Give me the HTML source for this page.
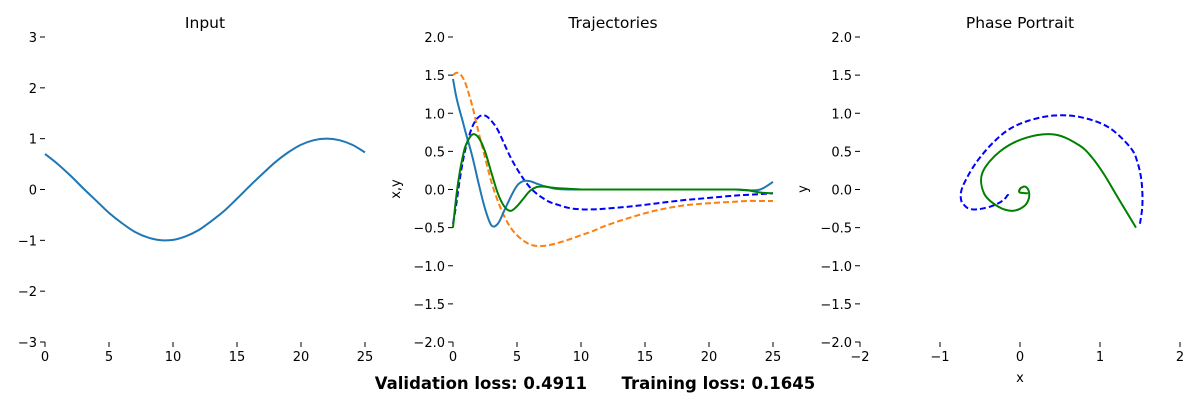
<!DOCTYPE html>
<html><head><meta charset="utf-8"><style>
body{margin:0;background:#fff;}
svg{display:block;font-family:"DejaVu Sans","Liberation Sans",sans-serif;}
</style></head><body>
<svg id="fig" width="1200" height="400" viewBox="0 0 1200 400">
<text x="595" y="389" text-anchor="middle" font-size="16.5" font-weight="bold">Validation loss: 0.4911&#160;&#160;&#160;&#160;&#160;&#160;Training loss: 0.1645</text>
</svg>
<script>
const inputT=[0,1,2,3,4,5,6,7,8,9,10,11,12,13,14,15,16,17,18,19,20,21,22,23,24,25];
const inputVals=[0.70,0.50,0.27,0.02,-0.22,-0.46,-0.66,-0.83,-0.94,-0.995,-0.99,-0.92,-0.80,-0.62,-0.42,-0.18,0.07,0.31,0.54,0.73,0.88,0.97,1.0,0.97,0.88,0.73];
const trajT=[0,0.25,0.5,0.75,1,1.5,2,2.5,3,3.5,4,4.5,5,5.5,6,6.5,7,7.5,8,9,10,11,12,14,16,18,20,22,23,24,25];
const orangeDash=[1.5,1.53,1.52,1.47,1.38,1.1,0.75,0.42,0.1,-0.15,-0.35,-0.5,-0.6,-0.67,-0.72,-0.74,-0.74,-0.73,-0.71,-0.66,-0.6,-0.54,-0.47,-0.36,-0.27,-0.21,-0.18,-0.16,-0.15,-0.15,-0.15];
const blueDash=[-0.45,-0.2,0.1,0.35,0.55,0.82,0.95,0.97,0.9,0.78,0.6,0.42,0.27,0.14,0.03,-0.05,-0.11,-0.16,-0.19,-0.24,-0.26,-0.26,-0.25,-0.22,-0.18,-0.14,-0.11,-0.08,-0.07,-0.06,-0.05];
const blueSolid=[1.45,1.22,1.05,0.9,0.74,0.44,0.08,-0.25,-0.47,-0.45,-0.28,-0.1,0.05,0.11,0.11,0.08,0.05,0.03,0.01,0,0,0,0,0,0,0,0,0,-0.01,0.0,0.1];
const greenSolid=[-0.5,-0.1,0.2,0.42,0.58,0.72,0.68,0.5,0.22,-0.05,-0.22,-0.28,-0.22,-0.12,-0.02,0.03,0.04,0.03,0.02,0.01,0,0,0,0,0,0,0,0,-0.01,-0.04,-0.05];
const ticks1X=[0,5,10,15,20,25], ticks1Y=[-3,-2,-1,0,1,2,3];
const ticks2Y=[-2,-1.5,-1,-0.5,0,0.5,1,1.5,2];
const ticks3X=[-2,-1,0,1,2];

const NS="http://www.w3.org/2000/svg";
const fig=document.getElementById('fig');
function el(tag,attrs,parent){const e=document.createElementNS(NS,tag);for(const k in attrs)e.setAttribute(k,attrs[k]);(parent||fig).appendChild(e);return e;}
function makeAxes(name,x0,x1,xmin,xmax,ymin,ymax,xt,yt,title,xfmt,yfmt){
  const y0=342,y1=37;
  const g=el('g',{});
  
  
  const sx=v=>x0+(v-xmin)/(xmax-xmin)*(x1-x0);
  const sy=v=>y0-(v-ymin)/(ymax-ymin)*(y0-y1);
  const t=el('text',{x:(x0+x1)/2,y:28,'text-anchor':'middle','font-size':15.5},g);t.textContent=title;
  
  
  xt.forEach(v=>{const X=sx(v);el('line',{x1:X,x2:X,y1:y0,y2:y0+5,stroke:'#000','stroke-width':1},g);
    const tx=el('text',{x:X,y:y0+19,'text-anchor':'middle','font-size':13},g);tx.textContent=xfmt(v);
    
    });
  yt.forEach(v=>{const Y=sy(v);el('line',{x1:x0-5,x2:x0,y1:Y,y2:Y,stroke:'#000','stroke-width':1},g);
    const ty=el('text',{x:x0-8,y:Y+5,'text-anchor':'end','font-size':13},g);ty.textContent=yfmt(v);
    
    });
  return {g,sx,sy};
}
function line(ax,xs,ys,color,dash,name){
  const P=xs.map((x,i)=>[ax.sx(x),ax.sy(ys[i])]);
  let d='M'+P[0][0].toFixed(2)+','+P[0][1].toFixed(2);
  for(let i=0;i<P.length-1;i++){
    const p0=P[Math.max(0,i-1)],p1=P[i],p2=P[i+1],p3=P[Math.min(P.length-1,i+2)];
    const c1=[p1[0]+(p2[0]-p0[0])/6,p1[1]+(p2[1]-p0[1])/6];
    const c2=[p2[0]-(p3[0]-p1[0])/6,p2[1]-(p3[1]-p1[1])/6];
    d+='C'+c1.map(v=>v.toFixed(2)).join(',')+' '+c2.map(v=>v.toFixed(2)).join(',')+' '+p2[0].toFixed(2)+','+p2[1].toFixed(2);
  }
  const p=el('path',{d,fill:'none',stroke:color,'stroke-width':2,'stroke-linejoin':'round','stroke-dasharray':dash||'none'},ax.g);
  
  
}
const minus=s=>s.replace('-','\u2212');
const fi=v=>minus(String(v)), f1=v=>minus(v.toFixed(1));
const a1=makeAxes('input-axes',45,365,0,25,-3,3,ticks1X,ticks1Y,'Input',fi,fi);
line(a1,inputT,inputVals,'#1f77b4',null,'input-line');
const a2=makeAxes('trajectories-axes',453,773,0,25,-2,2,ticks1X,ticks2Y,'Trajectories',fi,f1);
line(a2,trajT,orangeDash,'#ff7f0e','6,3','orange-dashed-trajectory');
line(a2,trajT,blueDash,'#0000ff','6,3','blue-dashed-trajectory');
line(a2,trajT,blueSolid,'#1f77b4',null,'blue-solid-trajectory');
line(a2,trajT,greenSolid,'#008000',null,'green-solid-trajectory');
const yl=el('text',{x:0,y:0,transform:'translate(400,189) rotate(-90)','text-anchor':'middle','font-size':13},a2.g);yl.textContent='x,y';


const a3=makeAxes('phase-portrait-axes',860,1180,-2,2,-2,2,ticks3X,ticks2Y,'Phase Portrait',fi,f1);
line(a3,orangeDash,blueDash,'#0000ff','6,3','phase-dashed-curve');
line(a3,blueSolid,greenSolid,'#008000',null,'phase-solid-curve');
const xl=el('text',{x:1020,y:382,'text-anchor':'middle','font-size':13},a3.g);xl.textContent='x';


const yl3=el('text',{x:0,y:0,transform:'translate(807,189) rotate(-90)','text-anchor':'middle','font-size':13},a3.g);yl3.textContent='y';


</script>
</body></html>
